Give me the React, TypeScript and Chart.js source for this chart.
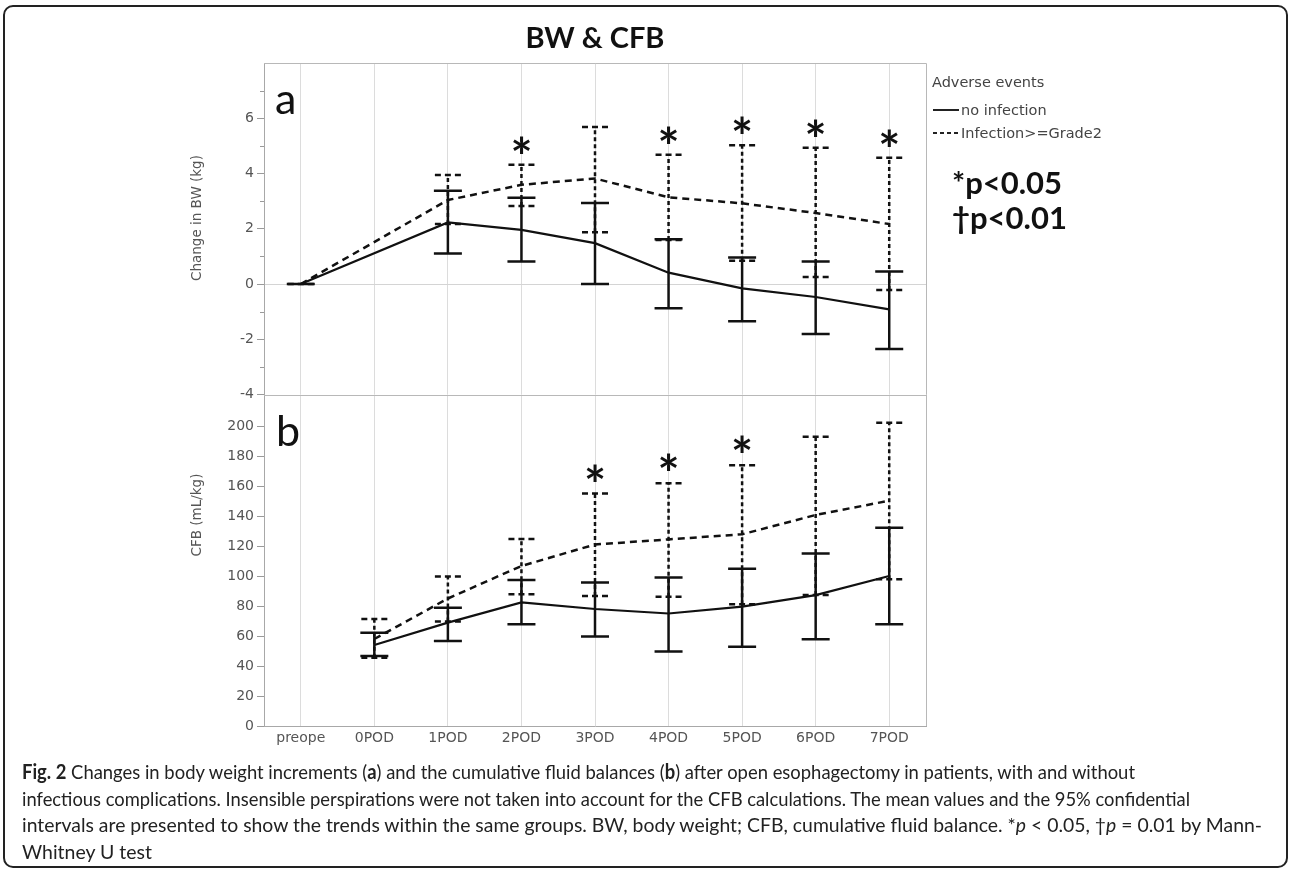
import React, { useEffect, useRef } from 'react';
import { Chart, registerables } from 'chart.js';

Chart.register(...registerables);

// ---------------- data ----------------
const categories = ['preope', '0POD', '1POD', '2POD', '3POD', '4POD', '5POD', '6POD', '7POD'];

const bwNoInfectionMean = [0, null, 2.23, 1.96, 1.48, 0.41, -0.16, -0.47, -0.92];
const bwNoInfectionLow = [0, null, 1.1, 0.81, 0.0, -0.88, -1.35, -1.81, -2.35];
const bwNoInfectionHigh = [0, null, 3.38, 3.12, 2.93, 1.62, 0.96, 0.81, 0.45];
const bwInfectionMean = [0, null, 3.04, 3.59, 3.82, 3.14, 2.92, 2.57, 2.17];
const bwInfectionLow = [0, null, 2.17, 2.82, 1.87, 1.59, 0.84, 0.25, -0.22];
const bwInfectionHigh = [0, null, 3.95, 4.32, 5.68, 4.68, 5.02, 4.93, 4.57];

const cfbNoInfectionMean = [null, 54, 68.9, 82.4, 78, 75, 79.6, 87.3, 100];
const cfbNoInfectionLow = [null, 46.7, 56.7, 67.8, 59.6, 49.6, 52.9, 57.8, 67.8];
const cfbNoInfectionHigh = [null, 62.2, 78.9, 97.3, 95.6, 99, 104.9, 115, 132.2];
const cfbInfectionMean = [null, 58, 85, 106.7, 121, 124.4, 127.8, 140.7, 150.2];
const cfbInfectionLow = [null, 45.5, 69.6, 87.8, 86.7, 86.2, 81.1, 87.3, 97.8];
const cfbInfectionHigh = [null, 71.3, 99.6, 124.7, 155, 161.8, 173.8, 192.9, 202.2];

const bwStarCategories = ['2POD', '4POD', '5POD', '6POD', '7POD'];
const cfbStarCategories = ['3POD', '4POD', '5POD'];

const bwTickValues = [-4, -3, -2, -1, 0, 1, 2, 3, 4, 5, 6, 7];
const bwLabelValues = [-4, -2, 0, 2, 4, 6];
const cfbTickValues = [0, 20, 40, 60, 80, 100, 120, 140, 160, 180, 200];
const bwRange = [-4, 8];
const cfbRange = [0, 221];

const seriesNames = ['no infection', 'Infection>=Grade2'];

const captionLines = [
  [{ b: 'Fig. 2' }, ' Changes in body weight increments (', { b: 'a' }, ') and the cumulative fluid balances (', { b: 'b' }, ') after open esophagectomy in patients, with and without'],
  ['infectious complications. Insensible perspirations were not taken into account for the CFB calculations. The mean values and the 95% confidential'],
  ['intervals are presented to show the trends within the same groups. BW, body weight; CFB, cumulative fluid balance. *', { i: 'p' }, ' < 0.05, \u2020', { i: 'p' }, ' = 0.01 by Mann-'],
  ['Whitney U test'],
];
const captionWidths = [1113, 1168, 1240, 130];

// ---------------- plugin ----------------
const overlayPlugin = {
  id: 'overlay',
  beforeDatasetsDraw(chart: any) {
    const { ctx, chartArea: a } = chart;
    const yA = chart.scales.yA;
    ctx.save();
    ctx.strokeStyle = '#b8b8b8';
    ctx.lineWidth = 1;
    ctx.beginPath();
    ctx.moveTo(a.left, Math.round(a.top) + 0.5);
    ctx.lineTo(Math.round(a.right) + 0.5, Math.round(a.top) + 0.5);
    ctx.lineTo(Math.round(a.right) + 0.5, a.bottom);
    ctx.moveTo(a.left, Math.round(yA.bottom) + 0.5);
    ctx.lineTo(a.right, Math.round(yA.bottom) + 0.5);
    ctx.stroke();
    // minor ticks (shorter) on the BW axis
    ctx.strokeStyle = '#9a9a9a';
    ctx.beginPath();
    for (const v of bwTickValues) {
      if (bwLabelValues.includes(v)) continue;
      const py = Math.round(yA.getPixelForValue(v)) + 0.5;
      ctx.moveTo(a.left - 4, py);
      ctx.lineTo(a.left, py);
    }
    ctx.stroke();
    ctx.restore();
  },
  afterDatasetsDraw(chart: any) {
    const { ctx } = chart;
    const x = chart.scales.x;
    const groups = [
      { axis: 'yA', lo: bwNoInfectionLow, hi: bwNoInfectionHigh, dashed: false },
      { axis: 'yA', lo: bwInfectionLow, hi: bwInfectionHigh, dashed: true },
      { axis: 'yB', lo: cfbNoInfectionLow, hi: cfbNoInfectionHigh, dashed: false },
      { axis: 'yB', lo: cfbInfectionLow, hi: cfbInfectionHigh, dashed: true },
    ];
    ctx.save();
    ctx.strokeStyle = '#111';
    ctx.lineCap = 'butt';
    for (const g of groups) {
      const y = chart.scales[g.axis];
      for (let i = 0; i < categories.length; i++) {
        const lo = g.lo[i];
        const hi = g.hi[i];
        if (lo == null || hi == null) continue;
        const px = x.getPixelForValue(i);
        const yl = y.getPixelForValue(lo);
        const yh = y.getPixelForValue(hi);
        const half = g.dashed ? 13 : 14;
        ctx.lineWidth = 2.5;
        ctx.setLineDash(g.dashed ? [4, 3] : []);
        ctx.beginPath();
        ctx.moveTo(px, yl);
        ctx.lineTo(px, yh);
        ctx.stroke();
        ctx.setLineDash(g.dashed ? [6, 4] : []);
        ctx.beginPath();
        ctx.moveTo(px - half, yl);
        ctx.lineTo(px + half, yl);
        ctx.moveTo(px - half, yh);
        ctx.lineTo(px + half, yh);
        ctx.stroke();
      }
    }
    ctx.setLineDash([]);

    const drawCentered = (text: string, cx: number, cy: number, font: string, alignLeft = false) => {
      ctx.font = font;
      ctx.textBaseline = 'alphabetic';
      ctx.textAlign = alignLeft ? 'left' : 'center';
      const m = ctx.measureText(text);
      const off = (m.actualBoundingBoxAscent - m.actualBoundingBoxDescent) / 2;
      ctx.fillText(text, cx, cy + off);
    };
    ctx.fillStyle = '#111';
    const starFont = 'bold 52px Lato';
    for (const c of bwStarCategories) {
      const i = categories.indexOf(c);
      const yy = chart.scales.yA.getPixelForValue(bwInfectionHigh[i] as number) - 20;
      drawCentered('*', x.getPixelForValue(i), yy, starFont);
    }
    for (const c of cfbStarCategories) {
      const i = categories.indexOf(c);
      const yy = chart.scales.yB.getPixelForValue(cfbInfectionHigh[i] as number) - 21;
      drawCentered('*', x.getPixelForValue(i), yy, starFont);
    }
    const a = chart.chartArea;
    drawCentered('a', a.left + 11, chart.scales.yA.top + 40, '43px Lato', true);
    drawCentered('b', a.left + 12, chart.scales.yB.top + 36, '43px Lato', true);
    ctx.restore();
  },
};

// ---------------- component ----------------
export default function App() {
  const canvasRef = useRef<HTMLCanvasElement>(null);
  const lineRefs = useRef<(HTMLSpanElement | null)[]>([]);

  useEffect(() => {
    const tickFont = { family: 'DejaVu Sans', size: 14 };
    const chart = new Chart(canvasRef.current as HTMLCanvasElement, {
      type: 'line',
      data: {
        labels: categories,
        datasets: [
          { label: seriesNames[0], data: bwNoInfectionMean, yAxisID: 'yA', borderColor: '#111', borderWidth: 2.2, pointRadius: 0, spanGaps: true, tension: 0, fill: false },
          { label: seriesNames[1], data: bwInfectionMean, yAxisID: 'yA', borderColor: '#111', borderWidth: 2.5, borderDash: [7, 5], pointRadius: 0, spanGaps: true, tension: 0, fill: false },
          { label: seriesNames[0], data: cfbNoInfectionMean, yAxisID: 'yB', borderColor: '#111', borderWidth: 2.2, pointRadius: 0, spanGaps: true, tension: 0, fill: false },
          { label: seriesNames[1], data: cfbInfectionMean, yAxisID: 'yB', borderColor: '#111', borderWidth: 2.5, borderDash: [7, 5], pointRadius: 0, spanGaps: true, tension: 0, fill: false },
        ] as any,
      },
      options: {
        responsive: false,
        animation: false,
        devicePixelRatio: 1,
        layout: { padding: { left: 204, right: 367, top: 63, bottom: 113 } },
        plugins: { legend: { display: false }, tooltip: { enabled: false }, title: { display: false } },
        scales: {
          x: {
            type: 'category',
            offset: true,
            grid: { offset: false, color: '#dcdcdc', lineWidth: 1, drawTicks: false },
            border: { display: true, color: '#a8a8a8' },
            ticks: { font: tickFont, color: '#555', padding: 4, autoSkip: false, maxRotation: 0 },
            afterFit: (s: any) => { s.height = 30; },
          },
          yB: {
            type: 'linear',
            position: 'left',
            stack: 'panels',
            stackWeight: 1,
            min: cfbRange[0],
            max: cfbRange[1],
            afterBuildTicks: (s: any) => { s.ticks = cfbTickValues.map((v) => ({ value: v })); },
            grid: { color: 'rgba(0,0,0,0)', tickColor: '#9a9a9a', tickLength: 7 },
            border: { display: true, color: '#a8a8a8' },
            ticks: { font: tickFont, color: '#555', padding: 3, autoSkip: false, callback: (v: any) => String(v) },
            afterFit: (s: any) => { s.width = 60; },
          },
          yA: {
            type: 'linear',
            position: 'left',
            stack: 'panels',
            stackWeight: 1,
            min: bwRange[0],
            max: bwRange[1],
            afterBuildTicks: (s: any) => { s.ticks = bwTickValues.map((v) => ({ value: v })); },
            grid: {
              color: (c: any) => (c.tick && c.tick.value === 0 ? '#d4d4d4' : 'rgba(0,0,0,0)'),
              tickColor: (c: any) => (c.tick && bwLabelValues.includes(c.tick.value) ? '#9a9a9a' : 'rgba(0,0,0,0)'),
              tickLength: 7,
            },
            border: { display: true, color: '#a8a8a8' },
            ticks: {
              font: tickFont,
              color: '#555',
              padding: 3,
              autoSkip: false,
              callback: (v: any) => (bwLabelValues.includes(Number(v)) ? String(v) : ''),
            },
            afterFit: (s: any) => { s.width = 60; },
          },
        } as any,
      },
      plugins: [overlayPlugin],
    });
    return () => chart.destroy();
  }, []);

  useEffect(() => {
    const fit = () => {
      lineRefs.current.forEach((el, i) => {
        if (!el) return;
        el.style.transform = 'none';
        const w = el.getBoundingClientRect().width;
        if (w > 0) el.style.transform = `scaleX(${captionWidths[i] / w})`;
      });
    };
    fit();
    if ((document as any).fonts && (document as any).fonts.ready) (document as any).fonts.ready.then(fit);
  }, []);

  const abs = (s: any): React.CSSProperties => ({ position: 'absolute', whiteSpace: 'nowrap', ...s });

  return (
    <div style={{ position: 'absolute', left: 0, top: 0, width: 1293, height: 869, background: '#fff', overflow: 'hidden' }}>
      <div style={abs({ left: 3, top: 5, width: 1285, height: 863, border: '2px solid #222', borderRadius: 10, boxSizing: 'border-box' })} />
      <canvas ref={canvasRef} width={1293} height={869} style={abs({ left: 0, top: 0, width: 1293, height: 869 })} />

      <div style={abs({ left: 445, top: 17, width: 300, textAlign: 'center', font: 'bold 29px Lato', lineHeight: '40px', color: '#111' })}>BW &amp; CFB</div>

      <div style={abs({ left: 196, top: 218, width: 0, height: 0 })}>
        <div style={abs({ left: 0, top: 0, transform: 'translate(-50%,-50%) rotate(-90deg)', font: '13.5px DejaVu Sans', color: '#555', lineHeight: '16px' })}>Change in BW (kg)</div>
      </div>
      <div style={abs({ left: 196, top: 515, width: 0, height: 0 })}>
        <div style={abs({ left: 0, top: 0, transform: 'translate(-50%,-50%) rotate(-90deg)', font: '13.5px DejaVu Sans', color: '#555', lineHeight: '16px' })}>CFB (mL/kg)</div>
      </div>

      <div style={abs({ left: 932, top: 72, font: '14.5px DejaVu Sans', color: '#444', lineHeight: '20px' })}>Adverse events</div>
      <div style={abs({ left: 933, top: 100, font: '14.5px DejaVu Sans', color: '#444', lineHeight: '20px', display: 'flex', alignItems: 'center' })}>
        <svg width="26" height="4" style={{ marginRight: 2 }}><line x1="0" y1="2" x2="26" y2="2" stroke="#222" strokeWidth="2" /></svg>
        <span>{seriesNames[0]}</span>
      </div>
      <div style={abs({ left: 933, top: 123, font: '14.5px DejaVu Sans', color: '#444', lineHeight: '20px', display: 'flex', alignItems: 'center' })}>
        <svg width="26" height="4" style={{ marginRight: 2 }}><line x1="0" y1="2" x2="26" y2="2" stroke="#222" strokeWidth="2" strokeDasharray="4 3" /></svg>
        <span>{seriesNames[1]}</span>
      </div>

      <div style={abs({ left: 952, top: 162, font: 'bold 31px Lato', color: '#111', lineHeight: '40px' })}>*p&lt;0.05</div>
      <div style={abs({ left: 952, top: 197, font: 'bold 31px Lato', color: '#111', lineHeight: '40px' })}>{'\u2020'}p&lt;0.01</div>

      {captionLines.map((parts, li) => (
        <div key={li} style={abs({ left: 22, top: 758 + li * 26.7, height: 27, font: '20px Lato', lineHeight: '27px', color: '#222' })}>
          <span ref={(el) => { lineRefs.current[li] = el; }} style={{ display: 'inline-block', transformOrigin: '0 50%', whiteSpace: 'nowrap' }}>
            {parts.map((p: any, k: number) =>
              typeof p === 'string' ? <React.Fragment key={k}>{p}</React.Fragment> : p.b ? <b key={k}>{p.b}</b> : <i key={k}>{p.i}</i>
            )}
          </span>
        </div>
      ))}
    </div>
  );
}
